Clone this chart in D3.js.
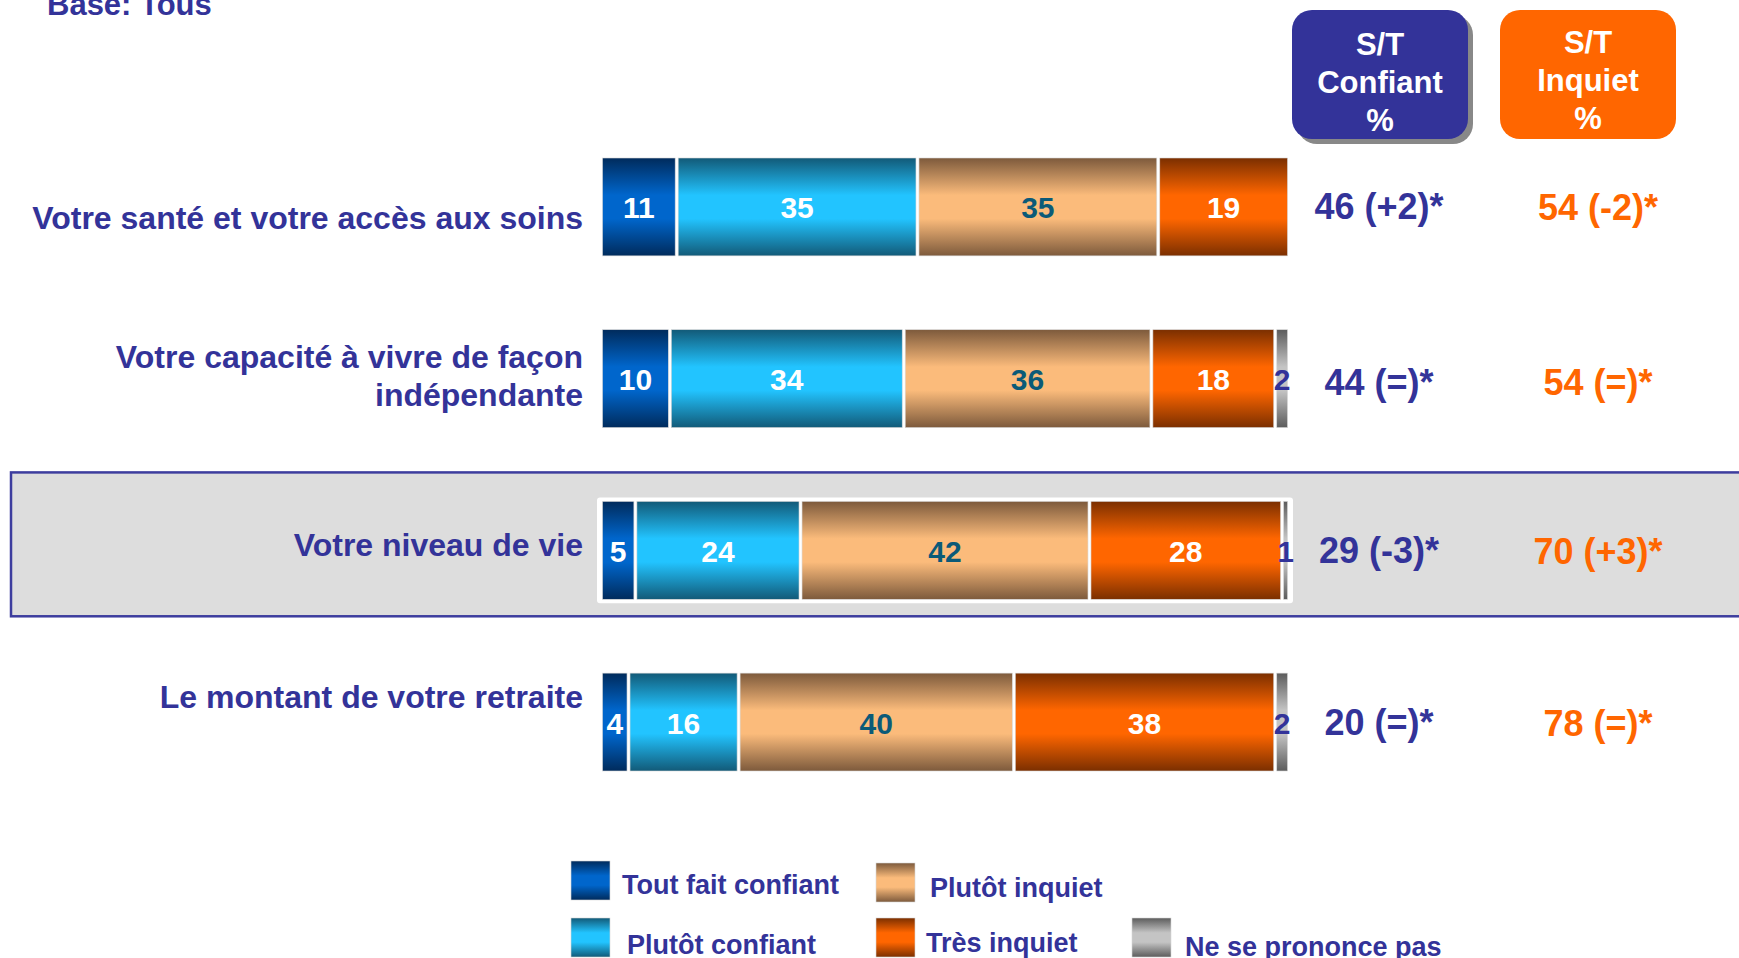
<!DOCTYPE html>
<html>
<head>
<meta charset="utf-8">
<script src="https://cdn.jsdelivr.net/npm/d3@7"></script>
<style>
  html, body { margin: 0; padding: 0; background: #fff; }
  svg { display: block; font-family: "Liberation Sans", Arial, sans-serif; font-weight: bold; }
</style>
</head>
<body>
<div id="container"></div>
<script>
// ---- data ----
const categories = ["sante", "capacite", "niveau", "retraite"];
const labelLines = [
    ["Votre santé et votre accès aux soins"],
    ["Votre capacité à vivre de façon", "indépendante"],
    ["Votre niveau de vie"],
    ["Le montant de votre retraite"]
];
const seriesNames = ["Tout fait confiant", "Plutôt confiant", "Plutôt inquiet", "Très inquiet", "Ne se prononce pas"];
const toutFait = [11, 10, 5, 4];
const plutotConfiant = [35, 34, 24, 16];
const plutotInquiet = [35, 36, 42, 40];
const tresInquiet = [19, 18, 28, 38];
const nsp = [0, 2, 1, 2];
const stConfiant = ["46 (+2)*", "44 (=)*", "29 (-3)*", "20 (=)*"];
const stInquiet = ["54 (-2)*", "54 (=)*", "70 (+3)*", "78 (=)*"];
const headerConfiant = ["S/T", "Confiant", "%"];
const headerInquiet = ["S/T", "Inquiet", "%"];
const baseText = "Base: Tous";

// ---- layout / style ----
const width = 1739, height = 958;
const blue = "#333399", orange = "#ff6600";
const gradients = [
    ["#002b5c", "#0066cc"],
    ["#125a78", "#22c4ff"],
    ["#7d5a3c", "#fbbb7b"],
    ["#7b2f00", "#ff6600"],
    ["#5c5c5c", "#c4c4c4"]
];
const valueColors = ["#fff", "#fff", "#0b5a78", "#fff", blue];
const labelDy = [11, -22, -5, -25];
const highlightRow = 2;

const rows = categories.map((c, i) => ({
    cat: c,
    [seriesNames[0]]: toutFait[i],
    [seriesNames[1]]: plutotConfiant[i],
    [seriesNames[2]]: plutotInquiet[i],
    [seriesNames[3]]: tresInquiet[i],
    [seriesNames[4]]: nsp[i]
}));
const stacked = d3.stack().keys(seriesNames)(rows);

const x = d3.scaleLinear().domain([0, 100]).range([601, 1289]);
const y = d3.scaleBand().domain(categories).range([158, 771]).paddingInner(0.43);
const bw = y.bandwidth();

const svg = d3.create("svg")
    .attr("width", width)
    .attr("height", height)
    .attr("viewBox", [0, 0, width, height]);

const defs = svg.append("defs");
gradients.forEach((g, i) => {
    const lg = defs.append("linearGradient")
        .attr("id", "grad" + i)
        .attr("x1", 0).attr("y1", 0).attr("x2", 0).attr("y2", 1);
    [[0, g[0]], [0.38, g[1]], [0.62, g[1]], [1, g[0]]].forEach(([o, c]) => {
        lg.append("stop").attr("offset", o).attr("stop-color", c);
    });
});

// title
svg.append("text")
    .attr("x", 47).attr("y", 15)
    .attr("font-size", 31)
    .attr("fill", blue)
    .text(baseText);

// highlighted row background
const hc = categories[highlightRow];
svg.append("rect")
    .attr("x", 11).attr("y", y(hc) - 29)
    .attr("width", width + 10).attr("height", bw + 46)
    .attr("fill", "#dddddd")
    .attr("stroke", "#3d3d9e")
    .attr("stroke-width", 2.5);
svg.append("rect")
    .attr("x", x(0) - 4).attr("y", y(hc) - 4)
    .attr("width", x(100) - x(0) + 8).attr("height", bw + 8)
    .attr("rx", 3)
    .attr("fill", "#fff");

// header boxes
function header(cx, lines, fill, shadow) {
    const g = svg.append("g");
    const bx = cx - 88, by = 10, bwid = 176, bh = 129;
    if (shadow) {
        g.append("rect").attr("x", bx + 5).attr("y", by + 5)
            .attr("width", bwid).attr("height", bh).attr("rx", 20)
            .attr("fill", "#888");
    }
    g.append("rect").attr("x", bx).attr("y", by)
        .attr("width", bwid).attr("height", bh).attr("rx", 20)
        .attr("fill", fill);
    lines.forEach((t, i) => {
        g.append("text")
            .attr("x", cx).attr("y", (shadow ? 44 : 42) + i * 38)
            .attr("text-anchor", "middle")
            .attr("dominant-baseline", "central")
            .attr("font-size", 31)
            .attr("fill", "#fff")
            .text(t);
    });
}
header(1380, headerConfiant, blue, true);
header(1588, headerInquiet, orange, false);

// bars
const layers = svg.append("g").selectAll("g")
    .data(stacked)
    .join("g");

layers.selectAll("rect")
    .data((d, si) => d.map(p => ({ p, si })))
    .join("rect")
    .filter(d => d.p[1] - d.p[0] > 0)
    .attr("x", d => x(d.p[0]) + 1.5)
    .attr("y", d => y(d.p.data.cat))
    .attr("width", d => Math.max(1, x(d.p[1]) - x(d.p[0]) - 3))
    .attr("height", bw)
    .attr("fill", d => `url(#grad${d.si})`)
    .attr("stroke", "#d8d8d8")
    .attr("stroke-width", 0.6);

layers.selectAll("text")
    .data((d, si) => d.map(p => ({ p, si, v: p[1] - p[0] })).filter(d => d.v > 0))
    .join("text")
    .attr("x", d => (x(d.p[0]) + x(d.p[1])) / 2)
    .attr("y", d => y(d.p.data.cat) + bw / 2 + 1)
    .attr("text-anchor", "middle")
    .attr("dominant-baseline", "central")
    .attr("font-size", 30)
    .attr("fill", d => valueColors[d.si])
    .text(d => d.v);

// category labels
categories.forEach((c, i) => {
    const lines = labelLines[i];
    const cy = y(c) + bw / 2 + labelDy[i];
    lines.forEach((t, j) => {
        svg.append("text")
            .attr("x", 583)
            .attr("y", cy + j * 38)
            .attr("text-anchor", "end")
            .attr("dominant-baseline", "central")
            .attr("font-size", 32)
            .attr("fill", blue)
            .text(t);
    });
});

// S/T values
svg.append("g").selectAll("text")
    .data(categories)
    .join("text")
    .attr("x", 1379)
    .attr("y", (c, i) => y(c) + bw / 2 + (i === 1 ? 4 : 0))
    .attr("text-anchor", "middle")
    .attr("dominant-baseline", "central")
    .attr("font-size", 36)
    .attr("fill", blue)
    .text((c, i) => stConfiant[i]);

svg.append("g").selectAll("text")
    .data(categories)
    .join("text")
    .attr("x", 1598)
    .attr("y", (c, i) => y(c) + bw / 2 + (i === 1 ? 4 : 1))
    .attr("text-anchor", "middle")
    .attr("dominant-baseline", "central")
    .attr("font-size", 36)
    .attr("fill", orange)
    .text((c, i) => stInquiet[i]);

// legend
const legendPos = [[571, 861], [571, 918], [876, 863], [876, 918], [1132, 918]];
const legend = svg.append("g").selectAll("g")
    .data(seriesNames)
    .join("g")
    .attr("transform", (d, i) => `translate(${legendPos[i][0]},${legendPos[i][1]})`);
legend.append("rect")
    .attr("width", 39).attr("height", 39)
    .attr("fill", (d, i) => `url(#grad${i})`)
    .attr("stroke", "#d8d8d8")
    .attr("stroke-width", 0.6);
legend.append("text")
    .attr("x", (d, i) => [51, 56, 54, 50, 53][i])
    .attr("y", (d, i) => [24, 27, 25, 25, 29][i])
    .attr("dominant-baseline", "central")
    .attr("font-size", 27)
    .attr("fill", blue)
    .text(d => d);

document.getElementById("container").append(svg.node());
</script>
</body>
</html>
